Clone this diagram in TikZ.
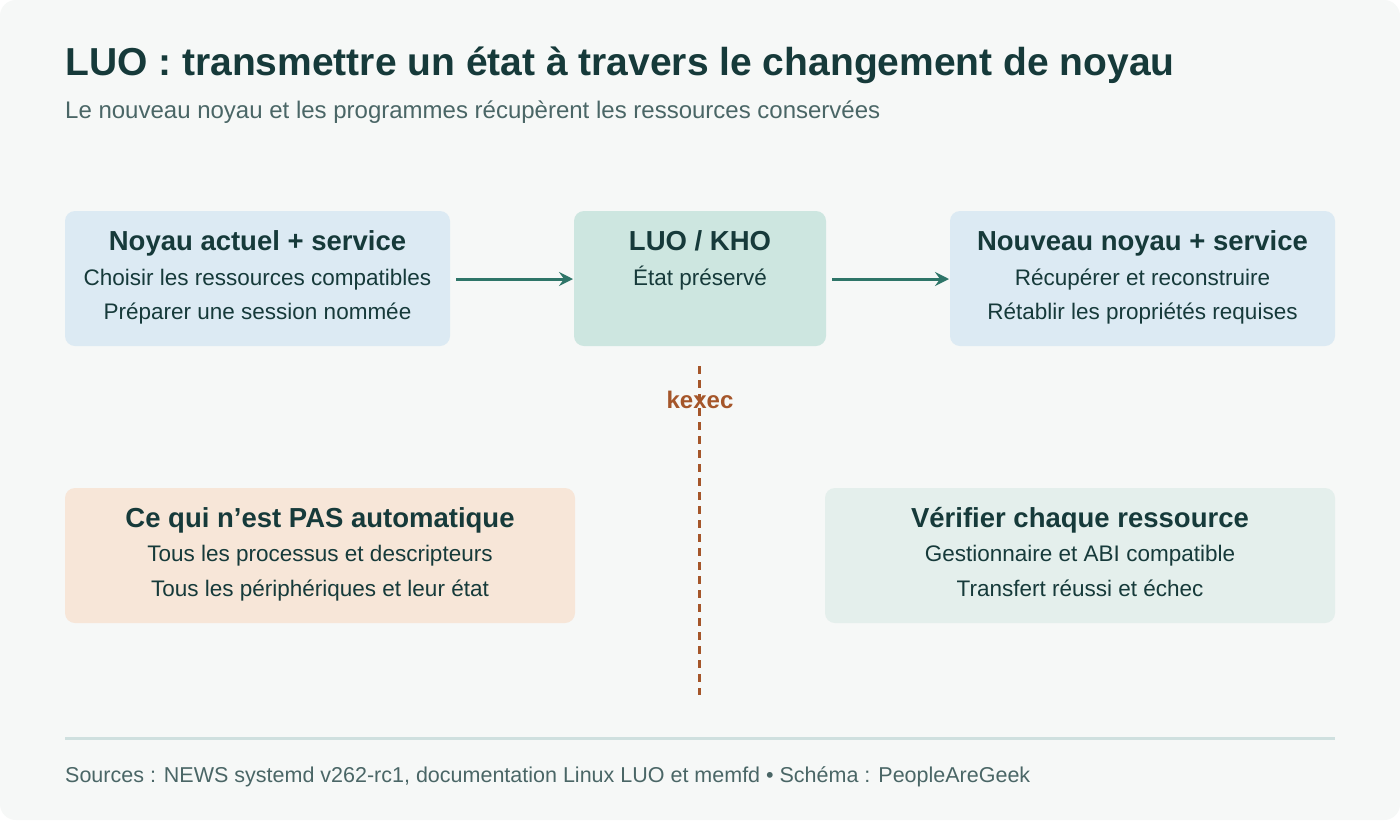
\documentclass[tikz,border=0pt]{standalone}
\usepackage{fontspec}
\usetikzlibrary{arrows.meta}
\setmainfont{Liberation Sans}
\definecolor{bg}{HTML}{F6F8F7}
\definecolor{ink}{HTML}{163A3A}
\definecolor{sub}{HTML}{4A6666}
\definecolor{blueb}{HTML}{DCEAF3}
\definecolor{greenb}{HTML}{CDE6E0}
\definecolor{orab}{HTML}{F7E6D8}
\definecolor{lgb}{HTML}{E4EFEC}
\definecolor{arr}{HTML}{2E7568}
\definecolor{kx}{HTML}{A5562A}
\definecolor{rule}{HTML}{CFE0DF}
\begin{document}
\begin{tikzpicture}[x=1pt,y=-1pt,
 box/.style={rounded corners=10pt,draw=none},
 lbl/.style={inner sep=0pt,text height=0.72em,text depth=0.21em,yshift=-6pt},
 tt/.style={lbl,font=\fontsize{27.5}{32}\selectfont\bfseries,text=ink},
 tx/.style={lbl,font=\fontsize{22.5}{26}\selectfont,text=ink},
 ar/.style={draw=arr,line width=3pt,-{Stealth[length=14pt,width=14pt,inset=5pt]}}]
\useasboundingbox (0,0) rectangle (1400,820);
\fill[white] (0,0) rectangle (1400,820);
\fill[bg,rounded corners=16pt] (0,0) rectangle (1400,820);
\node[lbl,anchor=west,font=\fontsize{39}{44}\selectfont\bfseries,text=ink,yshift=-3pt] (title) at (65,64) {LUO : transmettre un état à travers le changement de noyau};
\node[lbl,anchor=west,font=\fontsize{24}{28}\selectfont,text=sub] (subt) at (65,110) {Le nouveau noyau et les programmes récupèrent les ressources conservées};
\fill[box,blueb] (65,211) rectangle (450,346);
\fill[box,greenb] (574,211) rectangle (826,346);
\fill[box,blueb] (950,211) rectangle (1335,346);
\fill[box,orab] (65,488) rectangle (575,623);
\fill[box,lgb] (825,488) rectangle (1335,623);
\coordinate (b1) at (450,279); \coordinate (b2w) at (574,279);
\coordinate (b2e) at (826,279); \coordinate (b3) at (950,279);
\node[tt] (t1) at (257.5,242) {Noyau actuel + service};
\node[tx] (l11) at (257.5,277) {Choisir les ressources compatibles};
\node[tx] (l12) at (257.5,311) {Préparer une session nommée};
\node[tt] (t2) at (700,242) {LUO / KHO};
\node[tx] (l21) at (700,277) {État préservé};
\node[tt] (t3) at (1142.5,242) {Nouveau noyau + service};
\node[tx] (l31) at (1142.5,277) {Récupérer et reconstruire};
\node[tx] (l32) at (1142.5,311) {Rétablir les propriétés requises};
\node[tt] (t4) at (320,519) {Ce qui n’est PAS automatique};
\node[tx] (l41) at (320,553) {Tous les processus et descripteurs};
\node[tx] (l42) at (320,588) {Tous les périphériques et leur état};
\node[tt] (t5) at (1080,519) {Vérifier chaque ressource};
\node[tx] (l51) at (1080,553) {Gestionnaire et ABI compatible};
\node[tx] (l52) at (1080,588) {Transfert réussi et échec};
\draw[ar] ([xshift=6pt]b1) -- ([xshift=-1pt]b2w);
\draw[ar] ([xshift=6pt]b2e) -- ([xshift=-1pt]b3);
\coordinate (d1) at (699,366); \coordinate (d2) at (699,695);
\draw[kx,line width=3pt,dash pattern=on 8pt off 6pt] (d1) -- (d2);
\node[font=\fontsize{24}{28}\selectfont\bfseries,text=kx,inner sep=0pt] (kexec) at (700,400) {kexec};
\coordinate (r1) at (65,738); \coordinate (r2) at (1335,738);
\draw[rule,line width=3pt] (r1) -- (r2);
\node[lbl,anchor=west,font=\fontsize{21.5}{26}\selectfont,text=sub,yshift=1pt] (foot) at (65,775) {Sources : NEWS systemd v262-rc1, documentation Linux LUO et memfd • Schéma : PeopleAreGeek};
\end{tikzpicture}
\end{document}
